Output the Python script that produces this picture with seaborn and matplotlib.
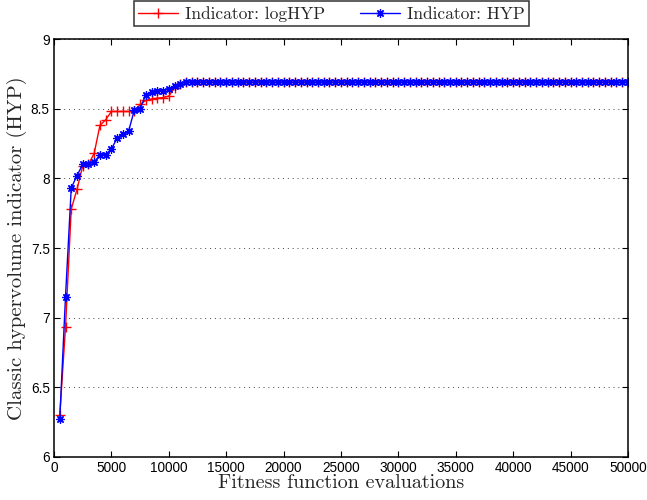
import matplotlib
matplotlib.use('Agg')
import matplotlib.pyplot as plt
import seaborn as sns
import pandas as pd
import numpy as np

# evaluation grid (one sample every 500 evaluations)
evals = np.arange(500, 50001, 500)

# Indicator: logHYP
log_hyp = [
    6.30, 6.93, 7.78, 7.92, 8.09, 8.10, 8.18, 8.38, 8.42, 8.48,
    8.48, 8.48, 8.48, 8.48, 8.53, 8.56, 8.57, 8.575, 8.58, 8.59,
    8.65, 8.68, 8.69, 8.69, 8.69, 8.69, 8.69, 8.69, 8.69, 8.69,
    8.69, 8.69, 8.69, 8.69, 8.69, 8.69, 8.69, 8.69, 8.69, 8.69,
    8.69, 8.69, 8.69, 8.69, 8.69, 8.69, 8.69, 8.69, 8.69, 8.69,
    8.69, 8.69, 8.69, 8.69, 8.69, 8.69, 8.69, 8.69, 8.69, 8.69,
    8.69, 8.69, 8.69, 8.69, 8.69, 8.69, 8.69, 8.69, 8.69, 8.69,
    8.69, 8.69, 8.69, 8.69, 8.69, 8.69, 8.69, 8.69, 8.69, 8.69,
    8.69, 8.69, 8.69, 8.69, 8.69, 8.69, 8.69, 8.69, 8.69, 8.69,
    8.69, 8.69, 8.69, 8.69, 8.69, 8.69, 8.69, 8.69, 8.69, 8.69,
]

# Indicator: HYP
hyp = [
    6.27, 7.15, 7.93, 8.02, 8.10, 8.105, 8.115, 8.17, 8.17, 8.21,
    8.29, 8.32, 8.34, 8.49, 8.50, 8.60, 8.62, 8.63, 8.63, 8.64,
    8.66, 8.68, 8.69, 8.69, 8.69, 8.69, 8.69, 8.69, 8.69, 8.69,
    8.69, 8.69, 8.69, 8.69, 8.69, 8.69, 8.69, 8.69, 8.69, 8.69,
    8.69, 8.69, 8.69, 8.69, 8.69, 8.69, 8.69, 8.69, 8.69, 8.69,
    8.69, 8.69, 8.69, 8.69, 8.69, 8.69, 8.69, 8.69, 8.69, 8.69,
    8.69, 8.69, 8.69, 8.69, 8.69, 8.69, 8.69, 8.69, 8.69, 8.69,
    8.69, 8.69, 8.69, 8.69, 8.69, 8.69, 8.69, 8.69, 8.69, 8.69,
    8.69, 8.69, 8.69, 8.69, 8.69, 8.69, 8.69, 8.69, 8.69, 8.69,
    8.69, 8.69, 8.69, 8.69, 8.69, 8.69, 8.69, 8.69, 8.69, 8.69,
]

xticks = [0, 5000, 10000, 15000, 20000, 25000, 30000, 35000, 40000, 45000, 50000]
yticks = [6, 6.5, 7, 7.5, 8, 8.5, 9]
ytick_labels = ['6', '6.5', '7', '7.5', '8', '8.5', '9']

df = pd.DataFrame({'evals': evals, 'logHYP': log_hyp, 'HYP': hyp})

sns.set_style('ticks')
plt.rcParams['font.family'] = ['Liberation Sans', 'DejaVu Sans']

fig = plt.figure(figsize=(6.47, 5.0), dpi=100)
ax = fig.add_axes([0.0835, 0.086, 0.887, 0.836])

sns.lineplot(data=df, x='evals', y='logHYP', ax=ax, color='#ff0000', lw=1.0,
             marker='+', markersize=7, markeredgewidth=1.0, markeredgecolor='#ff0000',
             label='Indicator: logHYP')
sns.lineplot(data=df, x='evals', y='HYP', ax=ax, color='#0000ff', lw=1.0,
             marker=(8, 2, 0), markersize=6, markeredgewidth=0.9, markeredgecolor='#0000ff',
             label='Indicator: HYP')

ax.set_xlim(0, 50000)
ax.set_ylim(6, 9)
ax.set_xticks(xticks)
ax.set_xticklabels([str(t) for t in xticks])
ax.set_yticks(yticks)
ax.set_yticklabels(ytick_labels)
ax.tick_params(direction='in', length=4, width=0.8, top=True, right=True,
               labelsize=9.8, colors='black', pad=3)
ax.yaxis.grid(True, linestyle=(0, (1, 4)), color='#444444', lw=0.7)
ax.xaxis.grid(False)
for s in ax.spines.values():
    s.set_color('black')
    s.set_linewidth(1.1)

ax.set_xlabel('Fitness function evaluations', family='cmr10', fontsize=14.5, labelpad=-1)
ax.set_ylabel('Classic hypervolume indicator (HYP)', family='cmr10', fontsize=15, labelpad=3)

leg = ax.legend(loc='lower center', bbox_to_anchor=(0.512, 0.948),
                bbox_transform=fig.transFigure, ncol=2, frameon=True, fancybox=False,
                prop={'family': 'cmr10', 'size': 12.5}, handlelength=2.3,
                columnspacing=2.0, borderpad=0.25, handletextpad=0.4, borderaxespad=0)
leg.get_frame().set_edgecolor('black')
leg.get_frame().set_linewidth(1.1)

fig.savefig('out.png', dpi=100)
